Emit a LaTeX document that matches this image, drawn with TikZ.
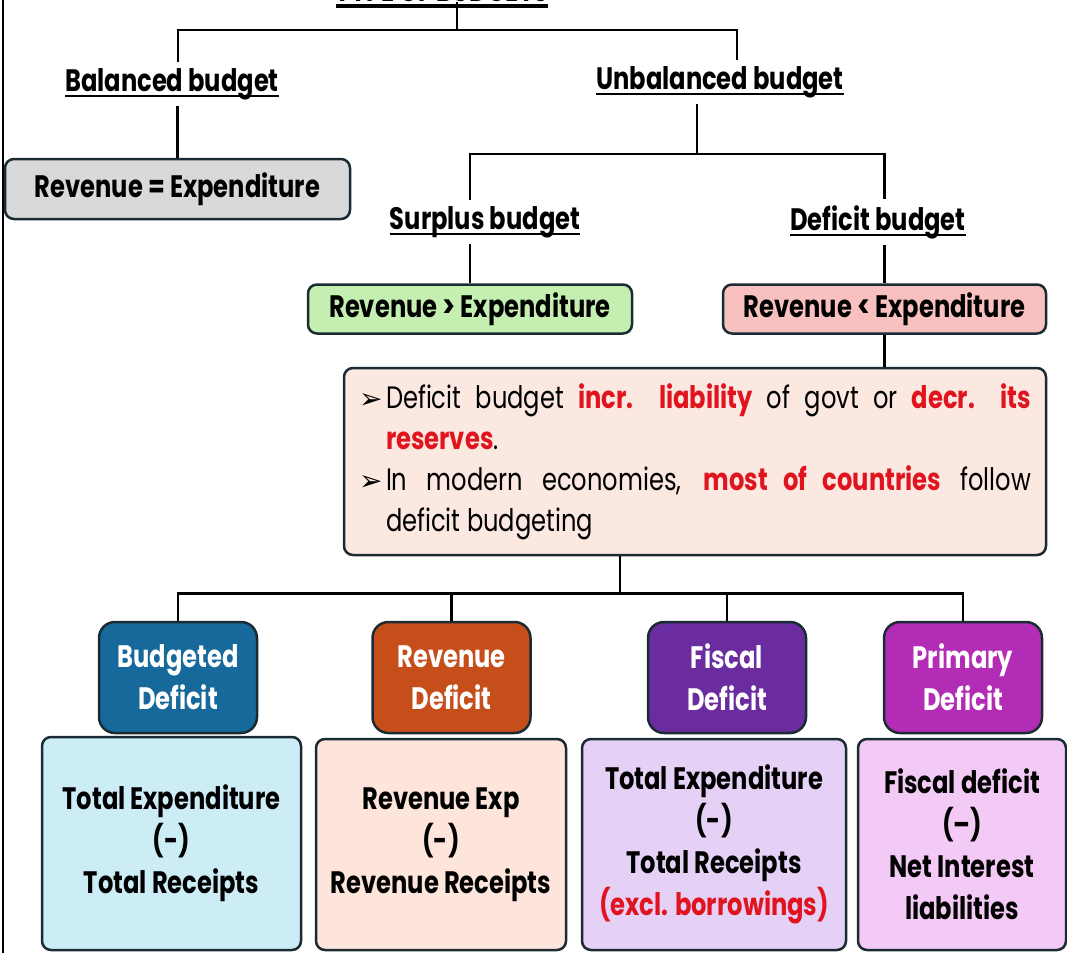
\documentclass[tikz,border=0pt]{standalone}
\usepackage[usenames,dvipsnames]{xcolor}
\usepackage{fontspec}
\setmainfont{Poppins}[FakeStretch=0.78]
\newfontfamily\bulletfont{DejaVu Sans}
\usepackage{tikz}
\usetikzlibrary{positioning}

\definecolor{boxline}{HTML}{1B2B33}
\definecolor{eqgray}{HTML}{D9D9D9}
\definecolor{gtgreen}{HTML}{C4EFB1}
\definecolor{ltpink}{HTML}{F8C1C0}
\definecolor{notepeach}{HTML}{FBE9E1}
\definecolor{bdblue}{HTML}{16699A}
\definecolor{rdorange}{HTML}{C64E1B}
\definecolor{fdpurple}{HTML}{6B2C9F}
\definecolor{pdmagenta}{HTML}{B22CB6}
\definecolor{bdlight}{HTML}{CDEDF6}
\definecolor{rdlight}{HTML}{FDE5DB}
\definecolor{fdlight}{HTML}{E5D1F5}
\definecolor{pdlight}{HTML}{F3C9F6}
\definecolor{hired}{HTML}{E0141E}

\newcommand{\budul}[1]{\setbox0\hbox{#1}\rlap{\rule[-6pt]{\wd0}{2.5pt}}\box0}
\newcommand{\arrowbul}{\makebox[27pt][l]{\bulletfont\fontsize{28}{28}\selectfont ➢}}

\tikzset{
  big/.style={font=\bfseries\fontsize{31}{42}\selectfont},
  lab/.style={big, inner sep=6pt},
  rbox/.style={draw=boxline, line width=2.5pt, rounded corners=9pt, align=center, inner sep=0pt},
  head/.style={rbox, big, text=white, minimum width=158pt, minimum height=111pt, rounded corners=16pt},
  sumbox/.style={rbox, big, minimum height=211pt},
  conn/.style={line width=2.5pt},
}

\begin{document}
\begin{tikzpicture}[x=1pt,y=-1pt]
  \useasboundingbox (0,0) rectangle (1067,953);
  \clip (0,0) rectangle (1067,953);
  \draw[conn] (3,0) -- (3,953);

  \draw (442,2) node[big,anchor=south,inner sep=0pt] (title) {TYPE OF BUDGETS};
  \draw[line width=4pt] ([yshift=-4pt]title.south west) -- ([yshift=-4pt]title.south east);

  \draw (172,84) node[lab] (bal) {\budul{Balanced budget}};
  \draw (720,82) node[lab] (unbal) {\budul{Unbalanced budget}};
  \draw (485,222) node[lab] (surp) {\budul{Surplus budget}};
  \draw (878,222) node[lab] (defb) {\budul{Deficit budget}};

  \draw (177.5,189) node[rbox,big,fill=eqgray,minimum width=345pt,minimum height=60pt] (eq) {Revenue = Expenditure};
  \draw (470,309) node[rbox,big,fill=gtgreen,minimum width=324pt,minimum height=49pt] (gt) {Revenue > Expenditure};
  \draw (884.5,309) node[rbox,big,fill=ltpink,minimum width=323pt,minimum height=49pt] (lt) {Revenue < Expenditure};

  \draw (695,461.5) node[rbox,fill=notepeach,minimum width=702pt,minimum height=187pt,text width=672pt,align=justify,font=\fontsize{31}{41}\selectfont] (note)
    {\noindent\hangindent=27pt\hangafter=1\arrowbul Deficit budget \textcolor{hired}{\bfseries incr. liability} of govt or \textcolor{hired}{\bfseries decr. its}\linebreak\textcolor{hired}{\bfseries reserves}.\par
     \noindent\hangindent=27pt\hangafter=1\arrowbul In modern economies, \textcolor{hired}{\bfseries most of countries} follow\linebreak deficit budgeting\par};

  \draw (178,677.5) node[head,fill=bdblue] (bd) {Budgeted\\Deficit};
  \draw (451.5,677.5) node[head,fill=rdorange] (rd) {Revenue\\Deficit};
  \draw (727,677.5) node[head,fill=fdpurple] (fd) {Fiscal\\Deficit};
  \draw (963,677.5) node[head,fill=pdmagenta] (pd) {Primary\\Deficit};

  \draw (171.5,843.5) node[sumbox,fill=bdlight,minimum width=259pt,minimum height=213pt] (bdsum) {Total Expenditure\\(-)\\Total Receipts};
  \draw (441,844.5) node[sumbox,fill=rdlight,minimum width=250pt] (rdsum) {Revenue Exp\\(-)\\Revenue Receipts};
  \draw (714,844.5) node[sumbox,fill=fdlight,minimum width=264pt] (fdsum) {Total Expenditure\\(-)\\Total Receipts\\\textcolor{hired}{(excl. borrowings)}};
  \draw (962,844.5) node[sumbox,fill=pdlight,minimum width=208pt] (pdsum) {Fiscal deficit\\(--)\\Net Interest\\liabilities};

  \draw[conn] ([xshift=15pt]title.south) -- ++(0,28) coordinate (tb);
  \draw[conn] (tb) -| ([xshift=6pt]bal.north);
  \draw[conn] (tb) -| ([xshift=17pt]unbal.north);
  \path[conn] (eq.north) edge (eq.north |- bal.south);
  \draw[conn] ([xshift=-23pt]unbal.south) -- ++(0,50) coordinate (ub);
  \draw[conn] (ub) -| (gt.north |- surp.north);
  \draw[conn] (ub) -| (lt.north |- defb.north);
  \path[conn] (gt.north) edge (gt.north |- surp.south);
  \path[conn] (lt.north) edge (lt.north |- defb.south);
  \path[conn] (lt.south) edge (lt.south |- note.north);
  \draw[conn] ([xshift=-75pt]note.south) -- ++(0,37) coordinate (nb);
  \foreach \h in {bd,rd,fd,pd}
    \draw[conn] (nb) -| (\h.north);

\end{tikzpicture}
\end{document}
